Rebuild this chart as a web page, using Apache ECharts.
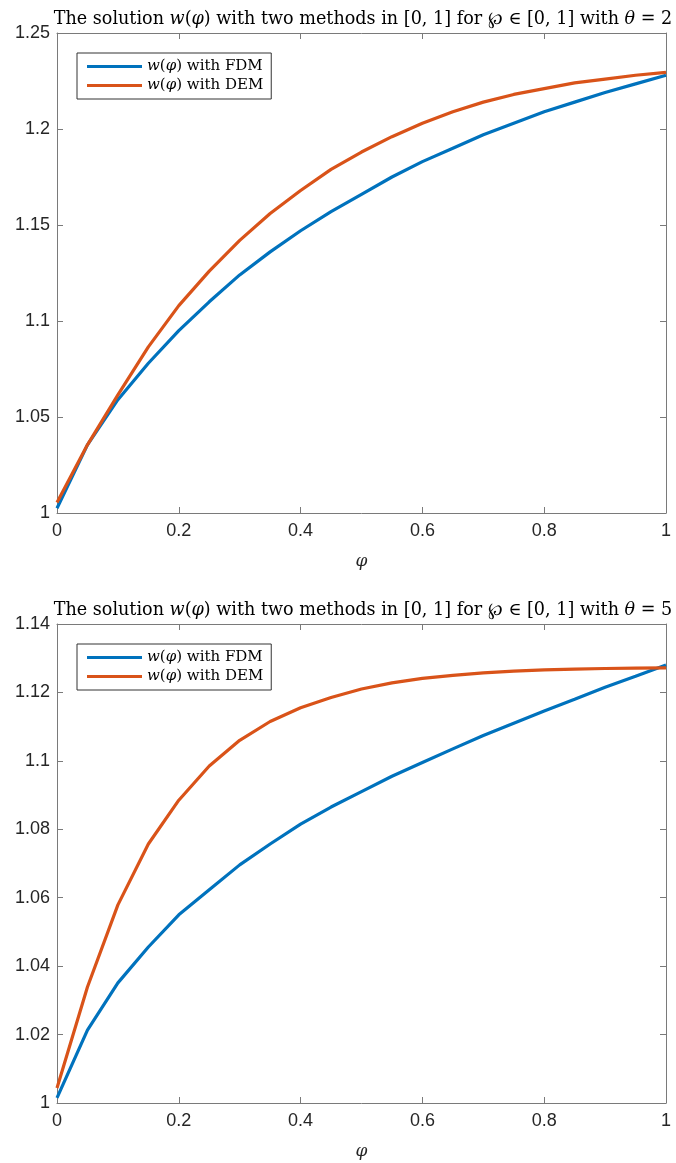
<!DOCTYPE html>
<html>
<head>
<meta charset="utf-8">
<script src="https://cdn.jsdelivr.net/npm/echarts@6/dist/echarts.min.js"></script>
<style>
html,body{margin:0;padding:0;background:#fff;}
#c{width:676px;height:1163px;}
</style>
</head>
<body>
<div id="c"></div>
<script>
// Data
const xs = [0,0.05,0.1,0.15,0.2,0.25,0.3,0.35,0.4,0.45,0.5,0.55,0.6,0.65,0.7,0.75,0.8,0.85,0.9,0.95,1];
const fdmTheta2 = [1.0025,1.0355,1.059,1.078,1.095,1.110,1.124,1.136,1.147,1.157,1.166,1.175,1.183,1.190,1.197,1.203,1.209,1.214,1.219,1.2235,1.228];
const demTheta2 = [1.0055,1.0355,1.0615,1.0865,1.108,1.126,1.142,1.156,1.168,1.179,1.188,1.196,1.203,1.209,1.214,1.218,1.221,1.224,1.226,1.228,1.2295];
const fdmTheta5 = [1.0015,1.0213,1.0351,1.0456,1.055,1.0623,1.0696,1.0757,1.0815,1.0865,1.091,1.0955,1.0995,1.1035,1.1074,1.111,1.1146,1.118,1.1215,1.1247,1.128];
const demTheta5 = [1.0044,1.0339,1.0579,1.0757,1.0885,1.0985,1.106,1.1115,1.1155,1.1185,1.121,1.1228,1.1241,1.125,1.1257,1.1262,1.1266,1.1268,1.127,1.1271,1.1272];
const xTicks = [0,0.2,0.4,0.6,0.8,1];
const yTicksTop = [1,1.05,1.1,1.15,1.2,1.25];
const yTicksBottom = [1,1.02,1.04,1.06,1.08,1.1,1.12,1.14];
const thetas = ['2','5'];
const seriesNames = ['FDM','DEM'];

const BLUE = '#0072BD', ORANGE = '#D95319';
const AX = '#262626', AXL = '#7a7a7a';
const serif = '"DejaVu Serif","Liberation Serif",serif';
const sans = '"Liberation Sans",Arial,sans-serif';

const grids = [
  {left:57, top:33, width:609, height:480},
  {left:57, top:624, width:609, height:479}
];
const yRanges = [
  {min:yTicksTop[0], max:yTicksTop[yTicksTop.length-1], interval:0.05},
  {min:yTicksBottom[0], max:yTicksBottom[yTicksBottom.length-1], interval:0.02}
];
const pairs = (ys) => xs.map((x,i)=>[x,ys[i]]);

const xAxes = [], yAxes = [], series = [], titles = [], legends = [];
grids.forEach((g,gi)=>{
  xAxes.push({
    type:'value', gridIndex:gi, min:xTicks[0], max:xTicks[xTicks.length-1], interval:0.2, position:'bottom',
    name:'{i|φ}', nameLocation:'middle', nameGap:40,
    nameTextStyle:{color:AX, fontFamily:serif, fontSize:17, rich:{i:{fontStyle:'italic', fontFamily:serif, fontSize:17, color:AX}}},
    axisLine:{show:true, lineStyle:{color:AXL, width:1}},
    axisTick:{show:true, inside:true, length:6, lineStyle:{color:AXL}},
    axisLabel:{color:AX, fontFamily:sans, fontSize:18, margin:9,
      formatter:v=>String(+v.toFixed(2))},
    splitLine:{show:false}
  });
  xAxes.push({
    type:'value', gridIndex:gi, min:xTicks[0], max:xTicks[xTicks.length-1], interval:0.2, position:'top',
    axisLine:{show:true, onZero:false, lineStyle:{color:AXL, width:1}},
    axisTick:{show:true, inside:true, length:6, lineStyle:{color:AXL}},
    axisLabel:{show:false}, splitLine:{show:false}
  });
  const yr = yRanges[gi];
  yAxes.push({
    type:'value', gridIndex:gi, min:yr.min, max:yr.max, interval:yr.interval, position:'left',
    axisLine:{show:true, onZero:false, lineStyle:{color:AXL, width:1}},
    axisTick:{show:true, inside:true, length:6, lineStyle:{color:AXL}},
    axisLabel:{color:AX, fontFamily:sans, fontSize:18, margin:7,
      formatter:v=>String(+v.toFixed(2))},
    splitLine:{show:false}
  });
  yAxes.push({
    type:'value', gridIndex:gi, min:yr.min, max:yr.max, interval:yr.interval, position:'right',
    axisLine:{show:true, onZero:false, lineStyle:{color:AXL, width:1}},
    axisTick:{show:true, inside:true, length:6, lineStyle:{color:AXL}},
    axisLabel:{show:false}, splitLine:{show:false}
  });
  const fdm = gi===0 ? fdmTheta2 : fdmTheta5;
  const dem = gi===0 ? demTheta2 : demTheta5;
  [[fdm,BLUE,seriesNames[0]],[dem,ORANGE,seriesNames[1]]].forEach(([d,c,n])=>{
    series.push({
      type:'line', name:n+gi, xAxisIndex:gi*2, yAxisIndex:gi*2, data:pairs(d),
      showSymbol:false, symbol:'none', lineStyle:{color:c, width:3.2}, itemStyle:{color:c},
      animation:false, z:3
    });
  });
  titles.push({
    text:'The solution {i|w}(' + '{i|φ}) with two methods in [0, 1] for ℘ ∈ [0, 1] with {i|θ} = ' + thetas[gi],
    left:358, textAlign:'center', top: gi===0 ? 5 : 596,
    textStyle:{color:'#000', fontFamily:serif, fontSize:17.6, fontWeight:'normal',
      rich:{i:{fontStyle:'italic', fontFamily:serif, fontSize:17.6, color:'#000'}}}
  });
  legends.push({
    data:[seriesNames[0]+gi, seriesNames[1]+gi],
    orient:'vertical', left:77, top: gi===0 ? 53 : 644,
    itemWidth:55, itemHeight:3, itemGap:4,
    padding:[6,8,6,10],
    borderColor:'#333', borderWidth:1, backgroundColor:'#fff',
    icon:'rect',
    formatter:n=>'{i|w}({i|φ}) with ' + n.slice(0,3),
    textStyle:{color:'#000', fontFamily:serif, fontSize:15,
      rich:{i:{fontStyle:'italic', fontFamily:serif, fontSize:15, color:'#000'}}}
  });
});

const chart = echarts.init(document.getElementById('c'), null, {renderer:'canvas'});
chart.setOption({
  backgroundColor:'#fff',
  animation:false,
  title:titles,
  legend:legends,
  grid:grids,
  xAxis:xAxes,
  yAxis:yAxes,
  series:series
});
</script>
</body>
</html>
